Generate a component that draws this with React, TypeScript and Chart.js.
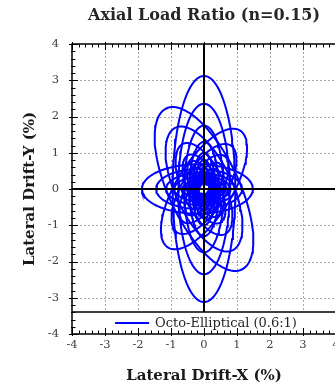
import React, { useEffect, useRef } from "react";
import { Chart, registerables } from "chart.js";

Chart.register(...registerables);

const chartTitle = "Axial Load Ratio (n=0.15)";
const xTitle = "Lateral Drift-X (%)";
const yTitle = "Lateral Drift-Y (%)";
const seriesLabel = "Octo-Elliptical (0.6:1)";

const xTickValues = [-4, -3, -2, -1, 0, 1, 2, 3, 4];
const yTickValues = [-4, -3, -2, -1, 0, 1, 2, 3, 4];

// Ellipse loops: orientation (deg), semi-major, semi-minor, centre x
const verticalAngle = 90;
const verticalAmp = [0.45, 0.6, 0.8, 1.0, 1.3, 1.75, 2.35, 3.12];
const verticalWidth = [0.16, 0.21, 0.28, 0.35, 0.45, 0.6, 0.78, 0.95];
const verticalCenter = [0, 0, 0, 0, 0, 0, 0, 0];

const upLeftAngle = 118;
const upLeftAmp = [0.4, 0.5, 0.65, 0.85, 1.05, 1.4, 1.9, 2.5];
const upLeftWidth = [0.18, 0.23, 0.3, 0.38, 0.48, 0.63, 0.85, 1.05];
const upLeftCenter = [0, 0, 0, 0, 0, 0, 0, 0];

const upRightAngle = 55;
const upRightAmp = [0.3, 0.4, 0.5, 0.65, 0.85, 1.1, 1.45, 1.95];
const upRightWidth = [0.14, 0.18, 0.23, 0.29, 0.38, 0.49, 0.64, 0.82];
const upRightCenter = [0, 0, 0, 0, 0, 0, 0, 0];

const horizAngle = 0;
const horizAmp = [0.3, 0.4, 0.5, 0.65, 0.85, 1.05, 1.3, 1.68];
const horizWidth = [0.13, 0.17, 0.21, 0.27, 0.35, 0.44, 0.55, 0.68];
const horizCenter = [0, 0, 0, 0, -0.05, -0.1, -0.15, -0.2];

const SAMPLES = 96;
const FONT = "'DejaVu Serif', serif";
const BLUE = "#0000ff";

function loop(angleDeg: number, a: number, b: number, cx: number) {
  const th = (angleDeg * Math.PI) / 180;
  const pts: { x: number; y: number }[] = [];
  for (let i = 0; i <= SAMPLES; i++) {
    const t = (i / SAMPLES) * Math.PI * 2;
    const u = a * Math.cos(t);
    const v = b * Math.sin(t);
    pts.push({
      x: cx + u * Math.cos(th) - v * Math.sin(th),
      y: u * Math.sin(th) + v * Math.cos(th),
    });
  }
  return pts;
}

function buildDatasets() {
  const groups = [
    [verticalAngle, verticalAmp, verticalWidth, verticalCenter],
    [upLeftAngle, upLeftAmp, upLeftWidth, upLeftCenter],
    [upRightAngle, upRightAmp, upRightWidth, upRightCenter],
    [horizAngle, horizAmp, horizWidth, horizCenter],
  ] as [number, number[], number[], number[]][];
  const ds: any[] = [];
  groups.forEach(([ang, amps, widths, centers]) => {
    amps.forEach((a, i) => {
      ds.push({
        label: seriesLabel,
        data: loop(ang, a, widths[i], centers[i]),
        showLine: true,
        borderColor: BLUE,
        backgroundColor: BLUE,
        borderWidth: 2,
        pointRadius: 0,
        fill: false,
        tension: 0,
      });
    });
  });
  return ds;
}

const framePlugin = {
  id: "framePlugin",
  beforeDatasetsDraw(chart: any) {
    const { ctx, chartArea } = chart;
    const xs = chart.scales.x;
    const ys = chart.scales.y;
    ctx.save();
    ctx.strokeStyle = "#a8a8a8";
    ctx.lineWidth = 1;
    ctx.setLineDash([2, 2]);
    xTickValues.forEach((v) => {
      if (v === 0 || v === -4 || v === 4) return;
      const px = Math.round(xs.getPixelForValue(v)) + 0.5;
      ctx.beginPath();
      ctx.moveTo(px, chartArea.top);
      ctx.lineTo(px, chartArea.bottom);
      ctx.stroke();
    });
    yTickValues.forEach((v) => {
      if (v === 0 || v === -4 || v === 4) return;
      const py = Math.round(ys.getPixelForValue(v)) + 0.5;
      ctx.beginPath();
      ctx.moveTo(chartArea.left, py);
      ctx.lineTo(chartArea.right, py);
      ctx.stroke();
    });
    ctx.restore();
  },
  afterDatasetsDraw(chart: any) {
    const { ctx, chartArea } = chart;
    const xs = chart.scales.x;
    const ys = chart.scales.y;
    const { left, right, top, bottom } = chartArea;
    ctx.save();
    ctx.strokeStyle = "#000";
    ctx.lineWidth = 2;
    const x0 = xs.getPixelForValue(0);
    const y0 = ys.getPixelForValue(0);
    ctx.beginPath();
    ctx.moveTo(x0, top);
    ctx.lineTo(x0, bottom);
    ctx.moveTo(left, y0);
    ctx.lineTo(right, y0);
    ctx.stroke();

    const boxTop = bottom - 22;
    ctx.fillStyle = "#fff";
    ctx.fillRect(left, boxTop, right - left, bottom - boxTop);
    ctx.strokeStyle = "#000";
    ctx.lineWidth = 1.5;
    ctx.beginPath();
    ctx.moveTo(left, boxTop);
    ctx.lineTo(right, boxTop);
    ctx.stroke();
    ctx.font = `13px ${FONT}`;
    const tw = ctx.measureText(seriesLabel).width;
    const sampleLen = 34;
    const gap = 6;
    const total = sampleLen + gap + tw;
    const cx = (left + right) / 2 + 2;
    const sx = cx - total / 2;
    const cy = (boxTop + bottom) / 2;
    ctx.strokeStyle = BLUE;
    ctx.lineWidth = 2;
    ctx.beginPath();
    ctx.moveTo(sx, cy);
    ctx.lineTo(sx + sampleLen, cy);
    ctx.stroke();
    ctx.fillStyle = "#262626";
    ctx.textBaseline = "middle";
    ctx.textAlign = "left";
    ctx.fillText(seriesLabel, sx + sampleLen + gap, cy + 1);

    ctx.strokeStyle = "#000";
    ctx.lineWidth = 1.5;
    ctx.strokeRect(left, top, right - left, bottom - top);

    ctx.lineWidth = 1;
    ctx.beginPath();
    for (let i = -20; i <= 20; i++) {
      const v = i / 5;
      const major = i % 5 === 0;
      const len = major ? 6 : 3.5;
      const px = Math.round(xs.getPixelForValue(v)) + 0.5;
      ctx.moveTo(px, top - (major ? 2 : 0));
      ctx.lineTo(px, top + len);
      ctx.moveTo(px, bottom + (major ? 2 : 0));
      ctx.lineTo(px, bottom - len);
      const py = Math.round(ys.getPixelForValue(v)) + 0.5;
      ctx.moveTo(left - (major ? 3 : 1), py);
      ctx.lineTo(left + len, py);
    }
    ctx.stroke();
    ctx.restore();
  },
  afterDraw(chart: any) {
    const { ctx, chartArea } = chart;
    ctx.save();
    ctx.font = `bold 16px ${FONT}`;
    ctx.fillStyle = "#262626";
    ctx.textAlign = "center";
    ctx.textBaseline = "middle";
    ctx.fillText(chartTitle, (chartArea.left + chartArea.right) / 2, 16);
    ctx.restore();
  },
};

export default function App() {
  const ref = useRef<HTMLCanvasElement | null>(null);

  useEffect(() => {
    document.body.style.margin = "0";
    document.documentElement.style.overflow = "hidden";
    document.body.style.overflow = "hidden";
    const canvas = ref.current;
    if (!canvas) return;
    const chart = new Chart(canvas, {
      type: "scatter",
      data: { datasets: buildDatasets() },
      options: {
        responsive: false,
        animation: false,
        events: [],
        layout: { padding: { top: 44, right: 9, left: 0, bottom: 0 } },
        plugins: {
          legend: { display: false },
          title: { display: false },
          tooltip: { enabled: false },
        },
        scales: {
          x: {
            type: "linear",
            min: -4,
            max: 4,
            afterFit: (s: any) => {
              s.height = 58;
            },
            afterBuildTicks: (s: any) => {
              s.ticks = xTickValues.map((v) => ({ value: v }));
            },
            grid: { display: false, drawTicks: false },
            border: { display: false },
            ticks: {
              padding: 4,
              color: "#404040",
              font: { family: FONT, size: 11.5 },
            },
            title: {
              display: true,
              text: xTitle,
              color: "#1a1a1a",
              font: { family: FONT, size: 15, weight: "bold" },
              padding: { top: 0, bottom: 7 },
            },
          },
          y: {
            type: "linear",
            min: -4,
            max: 4,
            afterFit: (s: any) => {
              s.width = 72;
            },
            afterBuildTicks: (s: any) => {
              s.ticks = yTickValues.map((v) => ({ value: v }));
            },
            grid: { display: false, drawTicks: false },
            border: { display: false },
            ticks: {
              padding: 13,
              color: "#404040",
              font: { family: FONT, size: 11.5 },
            },
            title: {
              display: true,
              text: yTitle,
              color: "#1a1a1a",
              font: { family: FONT, size: 15, weight: "bold" },
              padding: { top: 21, bottom: 0 },
            },
          },
        },
      } as any,
      plugins: [framePlugin],
    });
    return () => chart.destroy();
  }, []);

  return (
    <div style={{ width: 345, height: 392, overflow: "hidden" }}>
      <canvas ref={ref} width={345} height={392} style={{ display: "block" }} />
    </div>
  );
}
